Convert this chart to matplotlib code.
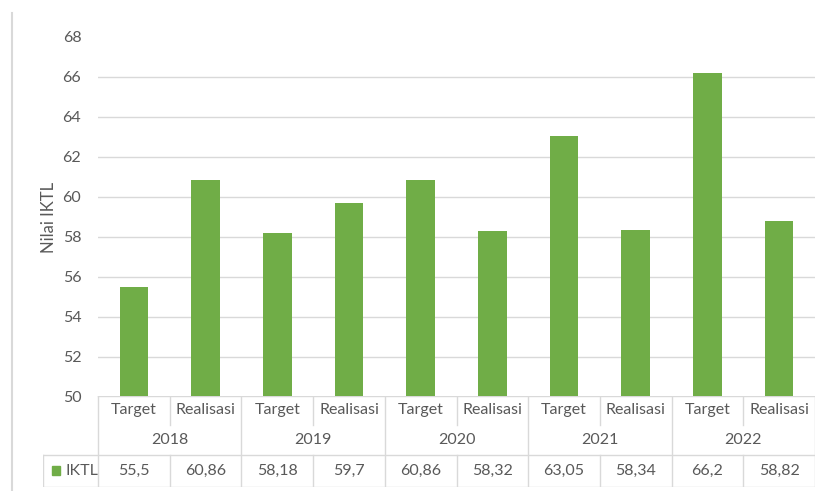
import matplotlib.pyplot as plt
import numpy as np

plt.rcParams['font.family'] = ['Lato', 'DejaVu Sans']

years = ['2018', '2019', '2020', '2021', '2022']
kinds = ['Target', 'Realisasi']
values = [55.5, 60.86, 58.18, 59.7, 60.86, 58.32, 63.05, 58.34, 66.2, 58.82]
value_labels = ['55,5', '60,86', '58,18', '59,7', '60,86', '58,32', '63,05', '58,34', '66,2', '58,82']
series_name = 'IKTL'

green = '#70AD47'
txt = '#595959'
line = '#D9D9D9'

W, H = 823, 491
fig = plt.figure(figsize=(W / 100, H / 100), dpi=100)

# pixel layout
x0, x1 = 98, 815
ytop, ybot = 37, 397
ax = fig.add_axes([x0 / W, 1 - ybot / H, (x1 - x0) / W, (ybot - ytop) / H])
x = np.arange(len(values))
ax.bar(x, values, width=0.4, color=green, zorder=3)
ax.set_xlim(-0.5, len(values) - 0.5)
ax.set_ylim(50, 68)
ax.set_yticks(np.arange(50, 69, 2))
for v in np.arange(52, 67, 2):
    ax.axhline(v, color=line, lw=1, zorder=1)
for s in ax.spines.values():
    s.set_visible(False)
ax.tick_params(axis='y', length=0, labelsize=11.5, labelcolor=txt, pad=12)
ax.set_xticks([])
ax.set_ylabel('Nilai IKTL', fontsize=12, color=txt, labelpad=4)

# data table below
col = (x1 - x0) / len(values)
tleft = 43
tab = fig.add_axes([tleft / W, 1 - 487 / H, (x1 - tleft) / W, (487 - 396) / H])
tab.set_xlim(-0.5 - (x0 - tleft) / col, len(values) - 0.5)
tab.set_ylim(487, 396)
tab.axis('off')
r1, r2, r3 = 425, 455, 487
lk = dict(color=line, lw=1)
tab.plot([-0.5, 9.5], [396, 396], **lk)
tab.plot([tab.get_xlim()[0], 9.5], [r2, r2], **lk)
tab.plot([tab.get_xlim()[0], 9.5], [r3, r3], **lk)
tab.plot([tab.get_xlim()[0]] * 2, [r2, r3], **lk)
tab.plot([-0.5, -0.5], [396, r3], **lk)
for i in range(len(years)):
    b = 2 * i + 1.5
    tab.plot([b, b], [396, r3], **lk)
    m = 2 * i + 0.5
    tab.plot([m, m], [396, r1], **lk)
    tab.plot([m, m], [r2, r3], **lk)
    tab.text(2 * i + 0.5, (r1 + r2) / 2, years[i], ha='center', va='center',
             fontsize=11.5, color=txt)
for j in range(len(values)):
    tab.text(j, (396 + r1) / 2, kinds[j % 2], ha='center', va='center',
             fontsize=11.5, color=txt)
    tab.text(j, (r2 + r3) / 2, value_labels[j], ha='center', va='center',
             fontsize=11.5, color=txt)
lx = tab.get_xlim()[0] + 0.12
tab.text(lx + 0.2, (r2 + r3) / 2, series_name, ha='left', va='center',
         fontsize=11.5, color=txt)
tab.add_patch(plt.Rectangle((lx, (r2 + r3) / 2 - 4.5), 0.12, 9, color=green,
                            clip_on=False))

# left border line of the picture
fig.add_artist(plt.Line2D([12 / W, 12 / W], [0, 1 - 13 / H], color=line, lw=1.5))

fig.savefig('out.png', dpi=100)
